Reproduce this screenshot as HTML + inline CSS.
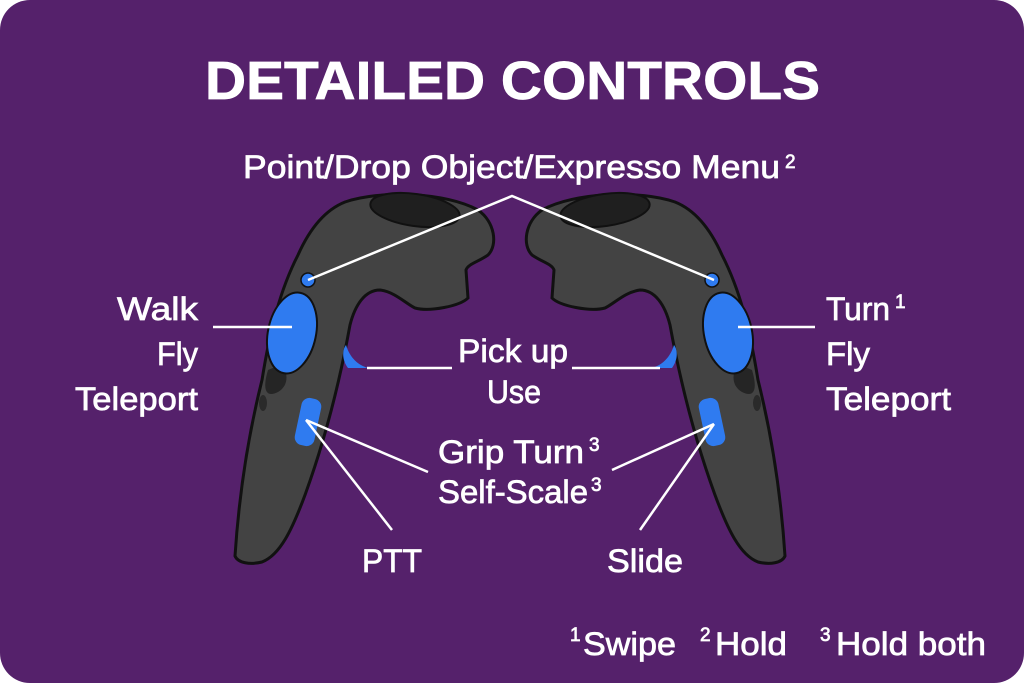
<!DOCTYPE html>
<html><head><style>
html,body{margin:0;padding:0;background:#fff;}
body{width:1024px;height:683px;overflow:hidden;}
svg{display:block}
text{font-family:"Liberation Sans",sans-serif;fill:#fff;stroke:#fff;stroke-width:0.7;}
</style></head><body>
<svg width="1024" height="683" viewBox="0 0 1024 683">
<rect x="0" y="0" width="1024" height="683" rx="30" fill="#55216b"/>
<defs>
<g id="ctl">
<path d="M235,556 C240,480 252,420 262,380 C270,330 280,290 298,255 C310,228 325,210 345,202 C380,190 445,192 478,210 C495,222 498,245 488,255 C478,262 468,264 466,270 L468,298 C460,306 430,312 415,308 C405,303 395,292 380,290 C365,290 355,305 350,325 C340,380 325,440 305,495 C292,530 280,555 262,562 C250,565 238,563 235,556 Z" fill="#434343" stroke="#111" stroke-width="3"/>
<ellipse cx="415" cy="210" rx="45" ry="16" transform="rotate(8 415 210)" fill="#1f1f1f" stroke="#111" stroke-width="2"/>
<path d="M268,370 C262,390 266,398 278,392 C290,385 288,370 280,365 Z" fill="#252525"/>
<ellipse cx="263" cy="403" rx="4" ry="8" fill="#2a2a2a"/>
<ellipse cx="292" cy="333" rx="24" ry="41" transform="rotate(12 292 333)" fill="#2f7bf0" stroke="#111" stroke-width="2"/>
<circle cx="308" cy="280" r="7" fill="#2f7bf0" stroke="#111" stroke-width="1.5"/>
<path d="M346,345 C350,358 358,365 368,368 L348,368 C342,360 342,350 346,345 Z" fill="#2f7bf0"/>
<rect x="298" y="398" width="20" height="48" rx="8" transform="rotate(12 308 422)" fill="#2f7bf0"/>
</g>
</defs>
<use href="#ctl"/>
<use href="#ctl" transform="translate(1020,0) scale(-1,1)"/>
<g stroke="#fff" stroke-width="2.5" fill="none">
<polyline points="308,280 512,196 714,280"/>
<line x1="213" y1="327" x2="292" y2="327"/>
<line x1="738" y1="327" x2="815" y2="327"/>
<line x1="367" y1="368" x2="452" y2="368"/>
<line x1="572" y1="368" x2="660" y2="368"/>
<line x1="306" y1="420" x2="428" y2="472"/>
<line x1="306" y1="420" x2="392" y2="530"/>
<line x1="714" y1="424" x2="612" y2="470"/>
<line x1="714" y1="424" x2="640" y2="530"/>
</g>
<text x="205" y="99" font-size="54" font-weight="bold" textLength="615" lengthAdjust="spacingAndGlyphs">DETAILED CONTROLS</text>
<g font-size="32">
<text x="243" y="178" textLength="537" lengthAdjust="spacingAndGlyphs">Point/Drop Object/Expresso Menu</text><text x="785" y="168" font-size="19">2</text>
<text x="117" y="320" textLength="81" lengthAdjust="spacingAndGlyphs">Walk</text>
<text x="157" y="365" textLength="41" lengthAdjust="spacingAndGlyphs">Fly</text>
<text x="75" y="410" textLength="123" lengthAdjust="spacingAndGlyphs">Teleport</text>
<text x="826" y="320" textLength="64" lengthAdjust="spacingAndGlyphs">Turn</text><text x="895" y="308" font-size="19">1</text>
<text x="826" y="365" textLength="44" lengthAdjust="spacingAndGlyphs">Fly</text>
<text x="826" y="410" textLength="125" lengthAdjust="spacingAndGlyphs">Teleport</text>
<text x="458" y="362" textLength="110" lengthAdjust="spacingAndGlyphs">Pick up</text>
<text x="487" y="403" textLength="54" lengthAdjust="spacingAndGlyphs">Use</text>
<text x="438" y="463" textLength="146" lengthAdjust="spacingAndGlyphs">Grip Turn</text><text x="589" y="451" font-size="19">3</text>
<text x="438" y="503" textLength="150" lengthAdjust="spacingAndGlyphs">Self-Scale</text><text x="591" y="491" font-size="19">3</text>
<text x="362" y="572" textLength="60" lengthAdjust="spacingAndGlyphs">PTT</text>
<text x="607" y="572" textLength="76" lengthAdjust="spacingAndGlyphs">Slide</text>
<text x="570" y="641" font-size="19">1</text><text x="583" y="655" textLength="93" lengthAdjust="spacingAndGlyphs">Swipe</text>
<text x="700" y="641" font-size="19">2</text><text x="715" y="655" textLength="72" lengthAdjust="spacingAndGlyphs">Hold</text>
<text x="820" y="641" font-size="19">3</text><text x="836" y="655" textLength="150" lengthAdjust="spacingAndGlyphs">Hold both</text>
</g>
</svg>
</body></html>
